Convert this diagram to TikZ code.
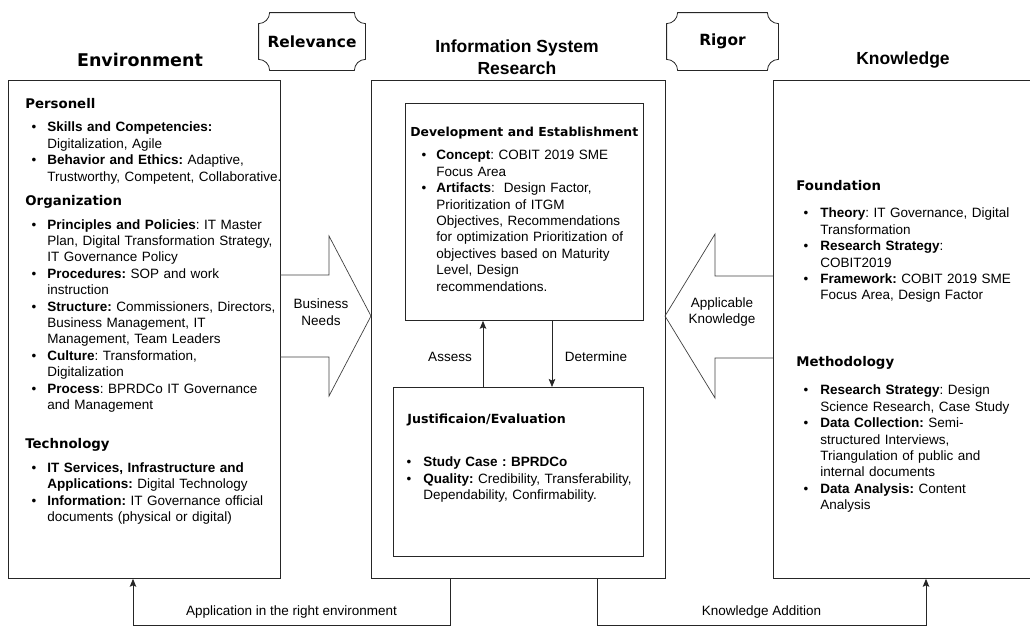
\documentclass[tikz,border=0pt]{standalone}
\usepackage{fontspec}
\setmainfont{Liberation Sans}
\newfontfamily\dejavu{DejaVu Sans}
\usetikzlibrary{arrows.meta,positioning}

\newdimen\bulind
\newdimen\bulgap
% heading line and bullet item inside the text blocks
\newcommand{\hd}[2][13.3]{\noindent\strut{\dejavu\bfseries\fontsize{#1}{16.4}\selectfont #2}\par}
\newcommand{\itm}[1]{{\leftskip=\bulind\noindent\strut\llap{\textbullet\hspace{\bulgap}}#1\par}}
% plaque outline round a tag node
\newcommand{\plaque}[1]{%
  \draw[black!85] ([xshift=11pt]#1.north west) -- ([xshift=-11pt]#1.north east)
    arc[start angle=180, end angle=270, radius=11pt] -- ([yshift=11pt]#1.south east)
    arc[start angle=90, end angle=180, radius=11pt] -- ([xshift=11pt]#1.south west)
    arc[start angle=0, end angle=90, radius=11pt] -- ([yshift=-11pt]#1.north west)
    arc[start angle=270, end angle=360, radius=11pt] -- cycle;}

\begin{document}
\begin{tikzpicture}[x=1pt, y=1pt, line width=0.8pt,
  frame/.style={draw=black!85, anchor=north west, inner sep=0pt},
  ttl/.style={font=\bfseries\fontsize{17.5}{22}\selectfont, align=center},
  tag/.style={font=\dejavu\bfseries\fontsize{15.4}{18}\selectfont, minimum width=106pt, minimum height=57pt, inner sep=0pt},
  txt/.style={anchor=north west, inner sep=0pt, align=left, font=\fontsize{13.5}{16.4}\selectfont\frenchspacing},
  lbl/.style={font=\fontsize{13.5}{16.4}\selectfont, align=center, inner sep=1pt},
  arr/.style={-{Stealth[length=8pt,width=6.5pt,inset=1.5pt]}, draw=black!85},
  blk/.style={draw=black!75, line width=0.7pt}]
\useasboundingbox (0,0) rectangle (1030,-635);
\clip (0,0) rectangle (1030,-635);

% titles and tags
\node[ttl, font=\dejavu\bfseries\fontsize{17.5}{22}\selectfont] (envt) at (140,-60) {Environment};
\node[ttl] (isrt) at (517,-57) {Information System\\Research};
\node[ttl] (knowt) at (903,-60) {Knowledge};
\node[tag] (rel) at (312,-41.5) {Relevance};
\node[tag, minimum width=111pt] (rig) at (722.5,-41.5) {Rigor};
\plaque{rel}
\plaque{rig}

% boxes
\node[frame, minimum width=272pt, minimum height=498pt] (env) at (8,-80) {};
\node[frame, minimum width=294pt, minimum height=498pt] (isr) at (371,-80) {};
\node[frame, minimum width=238pt, minimum height=217pt] (dev) at (405,-103) {};
\node[frame, minimum width=250pt, minimum height=169pt] (just) at (393,-387) {};
\node[frame, minimum width=280pt, minimum height=498pt] (know) at (773,-80) {};

% box texts
\node[txt, text width=275pt, execute at begin node={\bulind=22pt\bulgap=11pt}] (envx) at (25,-97) {%
  \hd{Personell}\vspace{6.6pt}
  \itm{\textbf{Skills and Competencies:}\\Digitalization, Agile}
  \itm{\textbf{Behavior and Ethics:} Adaptive,\\Trustworthy, Competent, Collaborative.}
  \vspace{7.6pt}
  \hd{Organization}\vspace{7.6pt}
  \itm{\textbf{Principles and Policies}: IT Master\\Plan, Digital Transformation Strategy,\\IT Governance Policy}
  \itm{\textbf{Procedures:} SOP and work\\instruction}
  \itm{\textbf{Structure:} Commissioners, Directors,\\Business Management, IT\\Management, Team Leaders}
  \itm{\textbf{Culture}: Transformation,\\Digitalization}
  \itm{\textbf{Process}: BPRDCo IT Governance\\and Management}
  \vspace{22.6pt}
  \hd{Technology}\vspace{7.6pt}
  \itm{\textbf{IT Services, Infrastructure and\\Applications:} Digital Technology}
  \itm{\textbf{Information:} IT Governance official\\documents (physical or digital)}};
\node[txt, text width=240pt, execute at begin node={\bulind=26pt\bulgap=10pt}] (devx) at (410,-125) {%
  \hd[12.4]{Development and Establishment}\vspace{6.6pt}
  \itm{\textbf{Concept}: COBIT 2019 SME\\Focus Area}
  \itm{\textbf{Artifacts}:\ \ Design Factor,\\Prioritization of ITGM\\Objectives, Recommendations\\for optimization Prioritization of\\objectives based on Maturity\\Level, Design\\recommendations.}};
\node[txt, text width=240pt, execute at begin node={\bulind=16pt\bulgap=12pt}] (justx) at (407,-412) {%
  \hd[12.6]{Justificaion/Evaluation}\vspace{26.6pt}
  \itm{\textbf{Study Case : BPRDCo}}
  \itm{\textbf{Quality:} Credibility, Transferability,\\Dependability, Confirmability.}};
\node[txt, text width=230pt, execute at begin node={\bulind=24pt\bulgap=12pt}] (fndx) at (796,-179) {%
  \hd{Foundation}\vspace{10.6pt}
  \itm{\textbf{Theory}: IT Governance, Digital\\Transformation}
  \itm{\textbf{Research Strategy}:\\COBIT2019}
  \itm{\textbf{Framework:} COBIT 2019 SME\\Focus Area, Design Factor}};
\node[txt, text width=230pt, execute at begin node={\bulind=24pt\bulgap=12pt}] (methx) at (796,-355) {%
  \hd{Methodology}\vspace{11.6pt}
  \itm{\textbf{Research Strategy}: Design\\Science Research, Case Study}
  \itm{\textbf{Data Collection:} Semi-\\structured Interviews,\\Triangulation of public and\\internal documents}
  \itm{\textbf{Data Analysis:} Content\\Analysis}};

% block arrows
\draw[blk] (280,-275) -- (329,-275) -- (329,-236) -- (371,-316) -- (329,-396) -- (329,-357) -- (280,-357);
\draw[blk] (773,-276) -- (715,-276) -- (715,-234) -- (665,-316) -- (715,-398) -- (715,-358) -- (773,-358);
\node[lbl] (bn) at (321,-312) {Business\\Needs};
\node[lbl] (ak) at (722,-312) {Applicable\\Knowledge};

% inner loop
\coordinate (as) at (483,0);
\coordinate (dt) at (552,0);
\draw[arr] (just.north -| as) -- (dev.south -| as);
\draw[arr] (dev.south -| dt) -- (just.north -| dt);
\node[lbl] (ass) at (450,-357) {Assess};
\node[lbl] (det) at (596,-357) {Determine};

% feedback lines
\coordinate (ap1) at (450,-625);
\coordinate (ap2) at (133,-625);
\coordinate (ka1) at (597,-625);
\coordinate (ka2) at (926,-625);
\draw[arr] (isr.south -| ap1) -- (ap1) -- node[lbl, above=5pt] {Application in the right environment} (ap2) -- (env.south -| ap2);
\draw[arr] (isr.south -| ka1) -- (ka1) -- node[lbl, above=5pt] {Knowledge Addition} (ka2) -- (know.south -| ka2);
\end{tikzpicture}
\end{document}
